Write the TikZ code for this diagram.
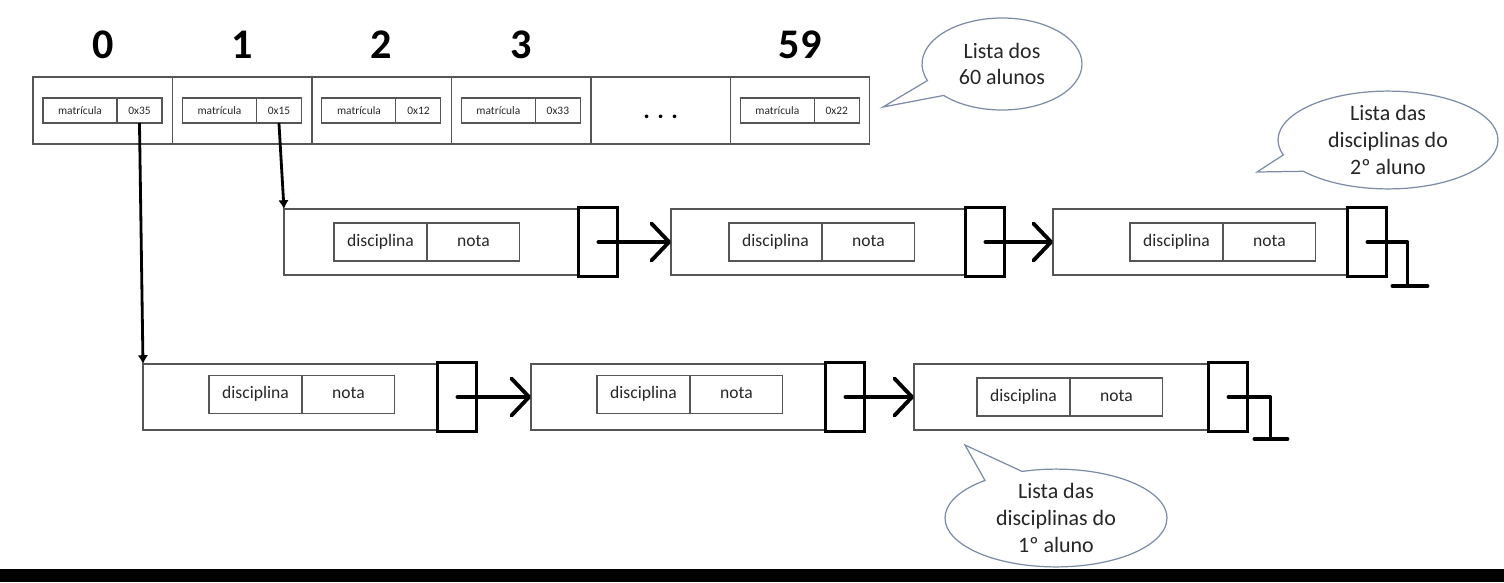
\documentclass[tikz,border=0pt]{standalone}
\usepackage{fontspec}
\setmainfont{Carlito}
\usepackage{tikz}
\usetikzlibrary{arrows.meta, positioning}
\usetikzlibrary{shapes.callouts}
\usetikzlibrary{calc}
\definecolor{boxline}{HTML}{555555}
\definecolor{bubbleline}{HTML}{7D8CA6}

\begin{document}
\begin{tikzpicture}[x=0.02cm, y=-0.02cm, >={Latex[length=5pt,width=6pt]},
        cellbox/.style={draw=boxline, line width=0.7pt, outer sep=0pt, inner sep=0pt,
            minimum width=2.79cm, minimum height=1.34cm, anchor=north west},
        matbox/.style={draw=boxline, line width=0.6pt, outer sep=0pt, inner sep=0pt, text=black!85,
            text height=0.75em, text depth=0.25em,
            minimum width=1.48cm, minimum height=0.5cm, font=\fontsize{6.5}{7}\selectfont},
        addrbox/.style={matbox, minimum width=0.9cm},
        idx/.style={font=\fontsize{24}{26}\bfseries\selectfont},
        elem/.style={draw=boxline, line width=0.7pt, outer sep=0pt, inner sep=0pt,
            minimum width=5.9cm, minimum height=1.32cm, anchor=north west},
        discbox/.style={draw=boxline, line width=0.6pt, outer sep=0pt, inner sep=0pt, text=black!85,
            text height=0.75em, text depth=0.25em,
            minimum width=1.86cm, minimum height=0.76cm, font=\fontsize{10}{12}\selectfont},
        nextbox/.style={draw, line width=1.7pt, outer sep=0pt, inner sep=0pt,
            minimum width=0.78cm, minimum height=1.38cm},
        nextarrow/.style={line width=2.2pt, line cap=round, -{Straight Barb[length=10pt,width=21pt,round]}},
        nullmark/.style={line width=2.2pt, line cap=round, line join=round},
        bubble/.style={ellipse callout, draw=bubbleline, line width=0.7pt, fill=white, inner sep=0pt,
            align=center, text=black!85, callout pointer arc=22, font=\fontsize{12.5}{15.3}\selectfont}]
    \useasboundingbox (0,0) rectangle (1504,582);
    \fill (0,569) rectangle (1504,582);

    % vetor dos 60 alunos
    \node[cellbox] (cell0) at (33,77) {};
    \node[cellbox, right=0pt of cell0] (cell1) {};
    \node[cellbox, right=0pt of cell1] (cell2) {};
    \node[cellbox, right=0pt of cell2] (cell3) {};
    \node[cellbox, right=0pt of cell3] (cell4) {};
    \node[cellbox, right=0pt of cell4] (cell5) {};

    \node[idx] (n0) at ([yshift=0.64cm]cell0.north) {0};
    \node[idx] (n1) at ([yshift=0.64cm]cell1.north) {1};
    \node[idx] (n2) at ([yshift=0.64cm]cell2.north) {2};
    \node[idx] (n3) at ([yshift=0.64cm]cell3.north) {3};
    \node[idx] (n59) at ([yshift=0.64cm]cell5.north) {59};

    \node[matbox, anchor=west] (mat0) at ([xshift=0.2cm]cell0.west) {matrícula};
    \node[addrbox, right=0pt of mat0] (addr0) {0x35};
    \node[matbox, anchor=west] (mat1) at ([xshift=0.2cm]cell1.west) {matrícula};
    \node[addrbox, right=0pt of mat1] (addr1) {0x15};
    \node[matbox, anchor=west] (mat2) at ([xshift=0.2cm]cell2.west) {matrícula};
    \node[addrbox, right=0pt of mat2] (addr2) {0x12};
    \node[matbox, anchor=west] (mat3) at ([xshift=0.2cm]cell3.west) {matrícula};
    \node[addrbox, right=0pt of mat3] (addr3) {0x33};
    \node[font=\fontsize{14}{14}\bfseries\selectfont] (dots) at ([yshift=-0.13cm]cell4.center) {. . .};
    \node[matbox, anchor=west] (mat5) at ([xshift=0.2cm]cell5.west) {matrícula};
    \node[addrbox, right=0pt of mat5] (addr5) {0x22};

    % disciplinas do 2o aluno
    \node[elem] (A1) at (284,209) {};
    \node[nextbox, right=0pt of A1] (P1) {};
    \node[discbox, anchor=west] (dA1) at ([xshift=1cm]A1.west) {disciplina};
    \node[discbox, right=0pt of dA1] (gA1) {nota};
    \node[elem] (A2) at (671,209) {};
    \node[nextbox, right=0pt of A2] (P2) {};
    \node[discbox, anchor=west] (dA2) at ([xshift=1.16cm]A2.west) {disciplina};
    \node[discbox, right=0pt of dA2] (gA2) {nota};
    \node[elem] (A3) at (1053,209) {};
    \node[nextbox, right=0pt of A3] (P3) {};
    \node[discbox, anchor=west] (dA3) at ([xshift=1.54cm]A3.west) {disciplina};
    \node[discbox, right=0pt of dA3] (gA3) {nota};

    % disciplinas do 1o aluno
    \node[elem] (B1) at (143,364) {};
    \node[nextbox, right=0pt of B1] (Q1) {};
    \node[discbox, anchor=west] (dB1) at ([xshift=1.32cm, yshift=0.05cm]B1.west) {disciplina};
    \node[discbox, right=0pt of dB1] (gB1) {nota};
    \node[elem] (B2) at (531,364) {};
    \node[nextbox, right=0pt of B2] (Q2) {};
    \node[discbox, anchor=west] (dB2) at ([xshift=1.32cm, yshift=0.05cm]B2.west) {disciplina};
    \node[discbox, right=0pt of dB2] (gB2) {nota};
    \node[elem] (B3) at (914,364) {};
    \node[nextbox, right=0pt of B3] (Q3) {};
    \node[discbox, anchor=west] (dB3) at ([xshift=1.26cm]B3.west) {disciplina};
    \node[discbox, right=0pt of dB3] (gB3) {nota};

    \draw[->, line width=1.6pt] (addr0.south) -- (B1.north west);
    \draw[->, line width=1.6pt] (addr1.south) -- (A1.north west);
    \draw[nextarrow] (P1.center) -- (A2.west);
    \draw[nextarrow] (P2.center) -- (A3.west);
    \draw[nextarrow] (Q1.center) -- (B2.west);
    \draw[nextarrow] (Q2.center) -- (B3.west);
    \draw[nullmark] (P3.center) -- ++(40,0) -- ++(0,44);
    \draw[nullmark] ($(P3.center)+(25,44)$) -- ++(35,0);
    \draw[nullmark] (Q3.center) -- ++(42,0) -- ++(0,42);
    \draw[nullmark] ($(Q3.center)+(26,42)$) -- ++(33,0);

    \node[bubble, minimum width=3.2cm, minimum height=1.84cm, callout absolute pointer={(883,107)}] (alunos) at (1002,64) {Lista dos\\60 alunos};
    \node[bubble, minimum width=4.4cm, minimum height=1.9cm, callout absolute pointer={(1257,172)}] (lista2) at (1388,140) {Lista das\\disciplinas do\\2º aluno};
    \node[bubble, minimum width=4.44cm, minimum height=1.9cm, callout absolute pointer={(965,445)}] (lista1) at (1056,518) {Lista das\\disciplinas do\\1º aluno};
\end{tikzpicture}
\end{document}
